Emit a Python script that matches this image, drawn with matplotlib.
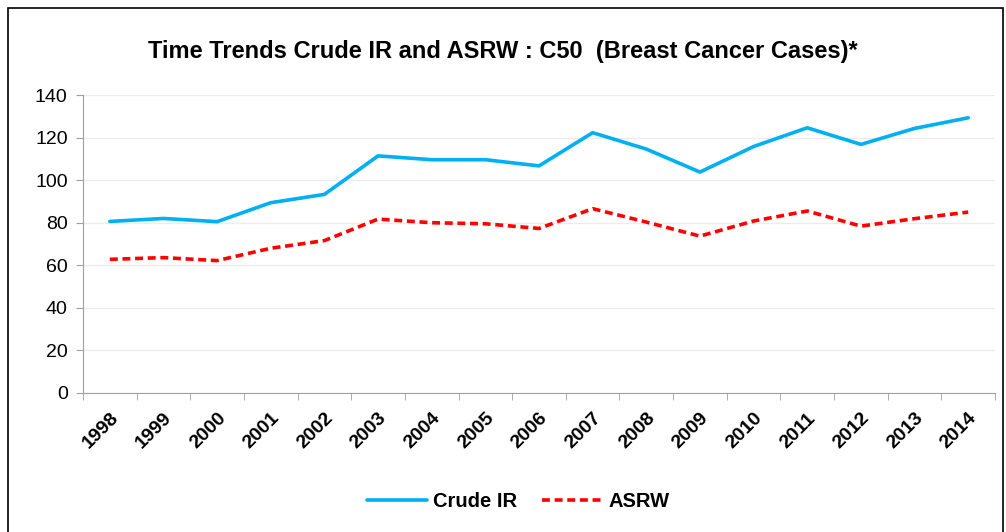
import numpy as np
import matplotlib.pyplot as plt
from matplotlib.patches import Rectangle

years = ['1998', '1999', '2000', '2001', '2002', '2003', '2004', '2005', '2006',
         '2007', '2008', '2009', '2010', '2011', '2012', '2013', '2014']
crude_ir = [80.6, 82.0, 80.5, 89.4, 93.3, 111.4, 109.6, 109.6, 106.7,
            122.3, 114.6, 103.8, 115.8, 124.6, 116.8, 124.3, 129.3]
asrw = [62.8, 63.6, 62.2, 68.0, 71.6, 81.7, 80.0, 79.5, 77.3,
        86.6, 80.3, 73.7, 80.8, 85.5, 78.4, 81.9, 85.0]
y_ticks = [0, 20, 40, 60, 80, 100, 120, 140]

plt.rcParams['font.family'] = ['Liberation Sans', 'DejaVu Sans']

fig = plt.figure(figsize=(10.06, 5.32), dpi=100)
ax = fig.add_axes([0.0825, 0.2613, 0.9066, 0.5601])

x = np.arange(len(years))
ax.plot(x, crude_ir, color='#00b0f0', lw=2.6, label='Crude IR', solid_capstyle='round')
ax.plot(x, asrw, color='#ff0000', lw=2.6, ls=(0, (2.2, 1.3)), label='ASRW')

ax.set_xlim(-0.5, len(years) - 0.5)
ax.set_ylim(0, 140)
ax.set_yticks(y_ticks)
ax.set_yticklabels([str(v) for v in y_ticks], fontsize=14)
ax.set_xticks(x)
ax.set_xticklabels(years, rotation=45, fontsize=14, fontweight='bold',
                   ha='right', va='top', rotation_mode='anchor')
ax.set_xticks(np.arange(-0.5, len(years)), minor=True)
ax.tick_params(axis='x', which='major', length=0, pad=12)
ax.tick_params(axis='x', which='minor', length=5, color='#a0a0a0')
ax.tick_params(axis='y', length=5, color='#a0a0a0', pad=6)

ax.grid(axis='y', color='#ececec', lw=1)
ax.set_axisbelow(True)
for s in ['top', 'right']:
    ax.spines[s].set_visible(False)
ax.spines['left'].set_color('#a0a0a0')
ax.spines['bottom'].set_color('#a0a0a0')

fig.text(0.5, 0.903, 'Time Trends Crude IR and ASRW : C50  (Breast Cancer Cases)*',
         ha='center', va='center', fontsize=17, fontweight='bold')

leg = fig.legend(loc='center', bbox_to_anchor=(0.515, 0.057), ncol=2, frameon=False,
                 handlelength=3.0, columnspacing=1.2, handletextpad=0.3,
                 prop={'weight': 'bold', 'size': 14.5})

fig.add_artist(Rectangle((0.008, -0.01), 0.989, 0.995, transform=fig.transFigure,
                         fill=False, edgecolor='black', lw=1.2))

fig.savefig('out.png', dpi=100)
